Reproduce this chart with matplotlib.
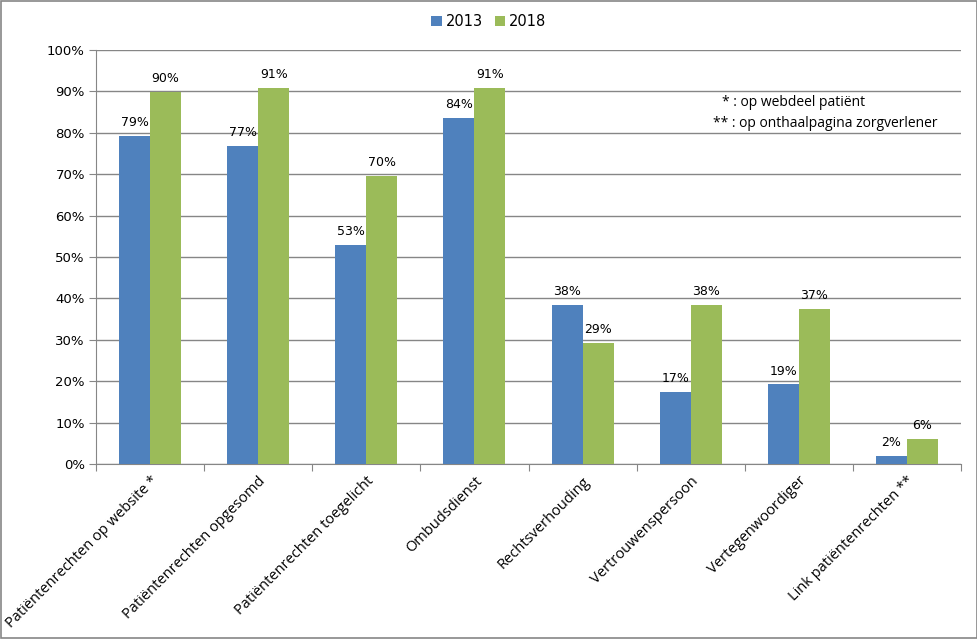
import numpy as np
import matplotlib.pyplot as plt
from matplotlib.patches import Rectangle

categories = [
    "Patiëntenrechten op website *",
    "Patiëntenrechten opgesomd",
    "Patiëntenrechten toegelicht",
    "Ombudsdienst",
    "Rechtsverhouding",
    "Vertrouwenspersoon",
    "Vertegenwoordiger",
    "Link patiëntenrechten **",
]
vals_2013 = [79.2, 76.8, 52.9, 83.6, 38.4, 17.3, 19.2, 1.9]
vals_2018 = [89.9, 90.8, 69.6, 90.8, 29.2, 38.4, 37.4, 6.0]

blue = "#4F81BD"
green = "#9BBB59"
grey = "#868686"
narrow = ["Liberation Sans Narrow", "DejaVu Sans"]

fig = plt.figure(figsize=(9.78, 6.39), dpi=100)
ax = fig.add_axes([0.0982, 0.2739, 0.8844, 0.6479])

x = np.arange(len(categories))
w = 0.287
b1 = ax.bar(x - w / 2, vals_2013, w, color=blue, label="2013", zorder=3)
b2 = ax.bar(x + w / 2, vals_2018, w, color=green, label="2018", zorder=3)

for bars, vals in ((b1, vals_2013), (b2, vals_2018)):
    for bar, v in zip(bars, vals):
        ax.annotate(f"{v:.0f}%", (bar.get_x() + bar.get_width() / 2, v),
                    xytext=(0, 5), textcoords="offset points", ha="center",
                    va="bottom", fontsize=9, family=narrow)

ax.set_xlim(-0.5, len(categories) - 0.5)
ax.set_ylim(0, 100)
ax.set_yticks(np.arange(0, 101, 10))
ax.set_yticklabels([f"{t}%" for t in range(0, 101, 10)], family=narrow, fontsize=9.5)
ax.yaxis.grid(True, color=grey, linewidth=1, zorder=0)

ax.set_xticks(np.arange(-0.5, len(categories), 1))
ax.set_xticklabels([])
ax.set_xticks(x, minor=True)
ax.set_xticklabels(categories, minor=True, rotation=45, ha="right",
                   rotation_mode="anchor", fontsize=10.5, family="Open Sans")
ax.tick_params(axis="x", which="minor", length=0, pad=7)
ax.tick_params(axis="x", which="major", length=5, color=grey)
ax.tick_params(axis="y", length=5, color=grey, pad=3)

for s in ("top", "right"):
    ax.spines[s].set_visible(False)
for s in ("left", "bottom"):
    ax.spines[s].set_color(grey)

ax.legend(loc="upper center", bbox_to_anchor=(0.5, 0.998), bbox_transform=fig.transFigure,
          ncol=2, frameon=False, handlelength=0.7, handleheight=0.7,
          columnspacing=0.8, handletextpad=0.3, prop={"family": narrow, "size": 10.5})

fig.text(0.738, 0.84, "* : op webdeel patiënt", fontsize=10, family="Open Sans",
         ha="left", va="center")
fig.text(0.729, 0.807, "** : op onthaalpagina zorgverlener", fontsize=10, family="Open Sans",
         ha="left", va="center")

fig.patches.append(Rectangle((0.001, 0.001), 0.998, 0.998, transform=fig.transFigure,
                             fill=False, edgecolor=grey, linewidth=1.2))

fig.savefig("out.png", dpi=100)
